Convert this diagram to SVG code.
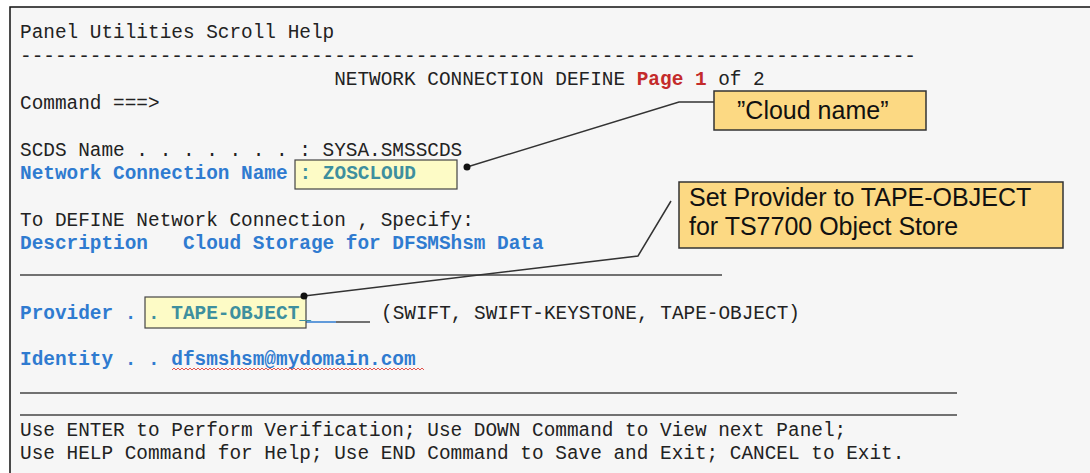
<svg xmlns="http://www.w3.org/2000/svg" width="1090" height="473" viewBox="0 0 1090 473">
<style>
.t{font-family:"Liberation Mono","Courier New",monospace;font-size:19.4px;fill:#222;white-space:pre}
.b{font-weight:bold;fill:#2f7bd0}
.teal{font-weight:bold;fill:#3e8f9e}
.red{font-weight:bold;fill:#c42b2b}
.rule{stroke:#444;stroke-width:1.3;fill:none}
.inbox{fill:#fdfbc6;stroke:#444;stroke-width:1.2}
.callout{fill:#fcd983;stroke:#333;stroke-width:1.5}
.ct{font-family:"Liberation Sans",Arial,sans-serif;font-size:25px;fill:#111}
.lead{stroke:#333;stroke-width:1.5;fill:none}
</style>
<rect x="0" y="0" width="1090" height="473" fill="#ffffff"/>
<rect x="10" y="7" width="1080" height="466" fill="#f6f6f6"/>
<path d="M10,473 V7 H1090" stroke="#111" stroke-width="1.5" fill="none"/>

<g id="screen">
<text class="t" x="20" y="38" xml:space="preserve">Panel Utilities Scroll Help</text>
<text class="t" x="20" y="62" xml:space="preserve">-----------------------------------------------------------------------------</text>
<text class="t" x="20" y="85" xml:space="preserve">                           NETWORK CONNECTION DEFINE <tspan class="red">Page 1</tspan> of 2</text>
<text class="t" x="20" y="109" xml:space="preserve">Command ===&gt;</text>
<text class="t" x="20" y="156" xml:space="preserve">SCDS Name . . . . . . . : SYSA.SMSSCDS</text>
<text class="t b" x="20" y="179" xml:space="preserve">Network Connection Name</text>
<text class="t" x="20" y="226" xml:space="preserve">To DEFINE Network Connection , Specify:</text>
<text class="t b" x="20" y="249" xml:space="preserve">Description   Cloud Storage for DFSMShsm Data</text>
<line class="rule" x1="20" y1="275" x2="722" y2="275"/>
<text class="t b" x="20" y="319" xml:space="preserve">Provider .</text>
<line x1="306" y1="322" x2="336" y2="322" stroke="#2f7bd0" stroke-width="1.5"/>
<line class="rule" x1="336" y1="322" x2="370" y2="322"/>
<text class="t" x="381" y="319" xml:space="preserve">(SWIFT, SWIFT-KEYSTONE, TAPE-OBJECT)</text>
<text class="t b" x="20" y="365" xml:space="preserve">Identity . . dfsmshsm@mydomain.com</text>
<path d="M172,370 l2,-2 l2,2 l2,-2 l2,2 l2,-2 l2,2 l2,-2 l2,2 l2,-2 l2,2 l2,-2 l2,2 l2,-2 l2,2 l2,-2 l2,2 l2,-2 l2,2 l2,-2 l2,2 l2,-2 l2,2 l2,-2 l2,2 l2,-2 l2,2 l2,-2 l2,2 l2,-2 l2,2 l2,-2 l2,2 l2,-2 l2,2 l2,-2 l2,2 l2,-2 l2,2 l2,-2 l2,2 l2,-2 l2,2 l2,-2 l2,2 l2,-2 l2,2 l2,-2 l2,2 l2,-2 l2,2 l2,-2 l2,2 l2,-2 l2,2 l2,-2 l2,2 l2,-2 l2,2 l2,-2 l2,2 l2,-2 l2,2 l2,-2 l2,2 l2,-2 l2,2 l2,-2 l2,2 l2,-2 l2,2 l2,-2 l2,2 l2,-2 l2,2 l2,-2 l2,2 l2,-2 l2,2 l2,-2 l2,2 l2,-2 l2,2 l2,-2 l2,2 l2,-2 l2,2 l2,-2 l2,2 l2,-2 l2,2 l2,-2 l2,2 l2,-2 l2,2 l2,-2 l2,2 l2,-2 l2,2 l2,-2 l2,2 l2,-2 l2,2 l2,-2 l2,2 l2,-2 l2,2 l2,-2 l2,2 l2,-2 l2,2 l2,-2 l2,2 l2,-2 l2,2 l2,-2 l2,2 l2,-2 l2,2 l2,-2 l2,2 l2,-2 l2,2 l2,-2 l2,2 l2,-2 l2,2" stroke="#e0403a" stroke-width="0.9" fill="none"/>
<line class="rule" x1="20" y1="393" x2="957" y2="393"/>
<line class="rule" x1="20" y1="415" x2="957" y2="415"/>
<text class="t" x="20" y="436" xml:space="preserve">Use ENTER to Perform Verification; Use DOWN Command to View next Panel;</text>
<text class="t" x="20" y="459" xml:space="preserve">Use HELP Command for Help; Use END Command to Save and Exit; CANCEL to Exit.</text>
</g>

<g id="field-name">
<rect class="inbox" x="295" y="160" width="162" height="29"/>
<text class="t teal" x="299.6" y="179" xml:space="preserve">: ZOSCLOUD</text>
</g>

<g id="field-provider">
<rect class="inbox" x="145" y="297" width="161" height="31"/>
<text class="t teal" x="148" y="319" xml:space="preserve">. TAPE-OBJECT_</text>
</g>

<g id="callout-cloud">
<rect class="callout" x="714" y="91" width="212" height="39"/>
<text class="ct" x="737" y="119">”Cloud name”</text>
</g>

<g id="callout-provider">
<rect class="callout" x="679" y="182" width="384" height="66"/>
<text class="ct" x="689" y="206">Set Provider to TAPE-OBJECT</text>
<text class="ct" x="689" y="235">for TS7700 Object Store</text>
</g>

<g id="connectors">
<polyline class="lead" points="467,167 679,102 714,102"/>
<circle cx="467" cy="167" r="3.5" fill="#111"/>
<polyline class="lead" points="304,296 638,256 671,201"/>
<circle cx="304" cy="296" r="3.5" fill="#111"/>
</g>
</svg>
